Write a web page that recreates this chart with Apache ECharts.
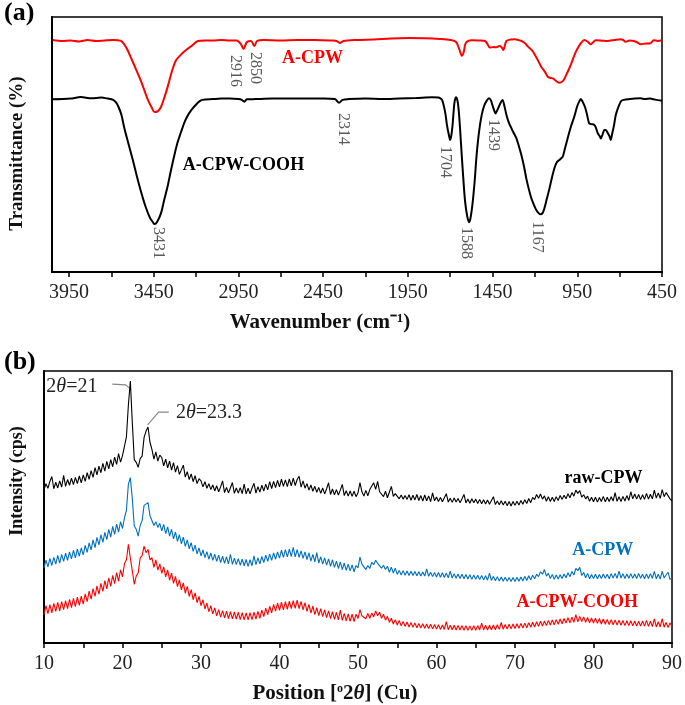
<!DOCTYPE html>
<html><head><meta charset="utf-8">
<script src="https://cdn.jsdelivr.net/npm/echarts@6/dist/echarts.min.js"></script>
<style>html,body{margin:0;padding:0;background:#fff}#c{width:685px;height:705px}</style>
</head><body><div id="c"></div>
<script>
// ---------- (a) FTIR ----------
const ftirTicks = [450,700,950,1200,1450,1700,1950,2200,2450,2700,2950,3200,3450,3700,3950];
const ftirTickLabels = [450,950,1450,1950,2450,2950,3450,3950];
const ftirWaveRed = [4045,3990,3940,3890,3840,3790,3740,3690,3643,3610,3586,3560,3535,3510,3484,3460,3445,3425,3407,3388,3368,3340,3317,3279,3250,3227,3189,3150,3100,3050,3000,2960,2935,2920,2900,2875,2856,2840,2800,2700,2600,2500,2400,2370,2350,2330,2250,2150,2050,1950,1848,1760,1700,1665,1645,1632,1620,1608,1573,1530,1495,1480,1466,1445,1427,1410,1397,1387,1368,1340,1319,1280,1260,1241,1220,1202,1180,1163,1140,1124,1105,1094,1075,1056,1043,1030,1015,997,978,958,940,929,909,890,870,855,841,800,772,730,694,680,665,640,617,595,577,545,518,499,475,450];
const ftirRed = [91.0,90.6,90.8,90.4,91.0,90.6,90.8,91.0,90.6,87.8,84.3,80.4,76.5,72.2,67.5,64.3,62.7,63.1,64.7,68.2,72.5,79.2,83.1,85.9,87.5,88.6,90.6,90.8,90.8,91.0,90.8,90.8,89.4,87.5,90.2,90.6,88.6,90.6,91.0,90.8,91.0,91.0,90.8,90.6,89.8,90.6,91.0,91.2,91.6,91.8,91.7,91.4,91.0,90.2,87.1,84.8,86.3,89.8,90.9,90.8,90.6,89.4,88.0,88.2,88.1,88.6,88.2,87.1,90.6,91.2,91.3,90.6,89.8,88.4,87.1,85.4,82.7,80.5,78.4,76.6,76.1,75.9,74.9,74.2,74.5,75.3,77.3,79.9,83.1,86.4,88.6,89.7,91.0,90.4,89.3,90.2,90.9,90.7,90.6,91.0,91.3,91.0,90.3,90.8,90.6,90.0,89.3,89.6,89.7,90.9,90.6,90.9];
const ftirWaveBlack = [4045,3990,3940,3880,3817,3760,3720,3689,3670,3658,3640,3625,3600,3573,3548,3522,3497,3471,3455,3445,3430,3407,3388,3368,3350,3330,3310,3291,3270,3253,3228,3202,3180,3163,3100,3050,3000,2950,2930,2915,2900,2850,2750,2650,2550,2450,2380,2356,2335,2300,2200,2100,2000,1900,1807,1770,1758,1748,1739,1728,1719,1709,1700,1693,1686,1680,1674,1665,1658,1651,1642,1632,1622,1612,1600,1589,1580,1569,1556,1544,1530,1514,1500,1485,1471,1460,1451,1439,1432,1422,1413,1400,1391,1380,1368,1355,1339,1325,1309,1295,1280,1265,1251,1236,1221,1206,1192,1178,1167,1155,1144,1130,1114,1100,1085,1070,1056,1046,1036,1022,1007,990,968,950,935,929,918,905,893,880,867,854,842,830,818,811,800,790,782,770,760,753,743,733,724,714,700,690,675,640,610,577,550,520,490,450];
const ftirBlack = [67.7,67.8,68.0,68.6,68.1,68.4,68.0,67.5,66.3,64.8,61.6,57.0,50.6,43.9,37.3,30.9,25.5,21.1,19.6,18.8,19.6,23.0,28.2,33.5,39.2,45.2,50.6,54.4,58.4,60.9,63.5,65.5,66.9,67.5,67.8,68.0,68.0,67.8,67.5,66.8,67.7,67.8,68.0,68.0,68.0,68.0,67.8,66.4,67.5,67.8,68.0,67.8,68.0,68.2,68.5,68.4,68.1,67.5,65.5,62.0,57.6,54.1,51.8,53.7,57.6,62.7,66.8,68.5,67.5,64.3,56.5,45.9,36.1,27.6,22.0,19.5,21.2,26.3,35.3,45.9,54.9,61.6,65.1,67.1,68.1,67.3,65.5,63.1,62.2,63.5,64.8,66.7,67.5,65.1,61.6,58.8,56.4,54.5,52.4,49.4,45.9,41.6,36.7,32.5,28.9,26.3,24.3,23.1,22.6,23.1,25.0,28.6,32.8,36.9,40.7,43.1,43.9,44.5,45.2,48.6,52.4,56.5,60.9,65.1,67.3,67.8,66.7,64.8,61.9,58.3,58.0,57.9,56.9,54.5,53.3,52.4,54.1,55.7,55.7,54.5,53.3,51.8,54.5,57.6,61.2,63.5,65.9,67.1,67.5,67.8,68.0,68.1,67.8,68.0,67.6,67.2];
const ftirPeakLabels = ['3431','2916','2850','2314','1704','1588','1439','1167'];
const ftirPeakLabelAt = [[3425,11.4],[2967,78.8],[2850,80.0],[2334,56.1],[1732,43.1],[1603,11.4],[1446,53.7],[1188,13.7]];
const ftirNames = ['A-CPW','A-CPW-COOH'];
const ftirNameAt = [[2692,83.9],[3278,42.0]];

// ---------- (b) XRD (2θ from 10 to 90 in steps of 0.25) ----------
const xrdFirst = 10, xrdStep = 0.25;
const xrdRaw = [
56.2,58.6,56.9,59.4,61.2,56.7,59.1,57.0,59.6,57.3,61.6,57.6,60.1,58.0,60.6,58.2,60.9,58.6,61.4,58.9,
61.8,59.4,62.6,60.2,63.4,60.9,64.5,61.8,65.0,62.6,66.0,63.2,66.8,64.0,67.4,64.8,68.3,65.7,69.6,66.5,
68.9,69.6,75.8,87.5,96.3,81.0,67.4,66.4,64.6,67.8,68.7,75.6,77.9,79.4,73.8,71.2,67.6,70.3,66.9,69.1,
68.2,65.1,67.6,64.4,66.9,63.6,66.3,62.8,65.2,62.0,62.6,65.4,61.0,63.0,60.1,62.2,59.3,61.5,58.6,60.4,
59.6,57.4,59.3,56.9,58.6,56.4,58.1,55.9,57.8,55.6,57.4,59.6,55.3,57.2,55.2,57.1,59.0,55.0,57.0,55.1,
57.1,54.9,58.4,54.8,56.9,54.8,57.0,58.7,55.1,57.5,55.5,58.0,55.9,58.4,56.3,59.3,56.8,59.4,57.1,59.8,
57.4,60.2,57.6,60.0,57.5,60.3,57.8,60.6,57.9,60.1,61.3,57.3,59.6,56.9,58.6,56.2,58.1,55.8,57.6,55.4,
57.2,55.0,57.0,54.8,56.7,58.9,54.6,56.6,54.5,56.4,54.4,56.2,58.3,54.2,56.0,54.0,55.9,53.9,55.8,53.8,
55.2,59.0,55.6,54.0,56.1,54.1,56.4,56.0,58.9,56.5,59.4,55.6,56.1,53.8,55.8,53.4,55.5,57.6,53.9,54.9,
54.6,53.0,54.4,52.9,54.2,52.8,54.5,52.5,54.3,52.6,54.6,52.4,54.2,52.2,54.4,52.3,54.1,52.0,55.2,52.3,
53.7,52.0,53.5,51.9,53.4,54.9,51.8,53.2,51.7,53.3,51.8,53.1,51.6,53.0,54.6,51.5,52.9,51.4,53.0,51.6,
52.9,51.3,52.8,51.2,52.7,51.1,52.6,51.0,52.4,53.8,50.9,52.2,50.8,52.3,50.7,52.1,50.5,52.0,50.4,52.0,
50.6,52.1,50.7,52.4,51.0,52.7,51.3,53.1,51.6,53.5,52.7,54.6,53.2,54.8,52.9,54.1,52.1,53.8,52.0,53.6,
52.0,53.8,52.4,54.2,52.8,54.3,53.0,54.9,53.4,55.3,54.0,56.2,55.0,56.0,53.6,54.5,53.0,54.0,52.1,53.6,
51.9,53.6,51.8,53.5,52.0,53.9,51.9,53.6,52.0,53.8,52.2,55.3,52.1,53.8,52.0,53.9,52.2,54.2,52.4,55.6,
53.0,54.8,52.9,54.6,52.7,54.5,52.8,55.0,52.9,54.7,53.0,56.2,53.3,55.2,53.2,56.4,53.8,55.3,56.0,53.0,
52.2];
const xrdACPW = [
27.6,30.5,28.0,31.1,28.5,31.5,29.0,32.2,29.4,32.6,30.0,33.0,30.4,33.5,30.9,34.1,31.3,34.5,31.9,35.0,
32.4,35.9,33.3,36.8,34.2,37.9,35.1,38.8,36.1,39.8,37.0,40.7,38.0,41.8,38.9,42.9,39.9,43.7,40.8,44.6,
42.1,46.0,48.8,58.4,60.8,53.0,43.0,41.8,39.3,43.2,45.0,50.6,51.1,51.6,46.8,46.3,43.2,44.6,42.5,44.0,
41.2,43.6,40.2,42.7,39.3,41.8,38.3,40.8,37.4,39.8,36.5,38.9,35.5,37.9,34.6,36.9,33.7,36.0,32.8,35.0,
32.0,34.2,31.4,33.6,30.8,33.1,30.4,32.7,30.0,32.3,29.6,31.9,29.3,31.7,29.1,32.6,28.9,31.2,28.8,31.0,
28.6,30.8,28.4,30.7,28.2,30.6,28.4,32.0,28.8,31.3,29.1,31.8,29.6,32.3,30.0,32.7,30.4,33.1,30.8,33.5,
31.2,34.1,31.5,34.3,31.7,34.5,31.8,35.2,31.7,34.3,31.5,33.9,31.1,33.5,30.7,33.1,30.1,32.6,29.8,33.2,
29.4,31.7,29.0,31.3,28.6,30.9,28.2,30.6,27.8,30.1,27.4,29.8,27.0,29.4,26.7,29.0,26.5,28.7,26.2,28.5,
27.6,31.6,29.0,28.4,27.0,28.5,27.4,29.6,28.8,30.4,29.3,30.0,27.5,28.6,27.0,28.2,26.0,27.9,25.7,27.5,
25.2,26.7,25.0,26.6,24.9,26.5,24.8,26.4,24.8,26.3,24.7,26.2,24.6,26.1,24.6,27.2,24.5,26.0,24.4,25.9,
24.3,25.9,24.2,25.8,24.1,25.7,24.0,26.4,23.9,25.5,23.8,25.4,23.7,25.3,23.6,25.2,23.5,25.1,23.4,25.0,
23.4,24.9,23.3,24.8,23.2,24.7,23.1,25.7,23.0,24.5,22.9,24.4,22.8,24.3,22.7,24.2,22.7,24.1,22.6,24.1,
22.6,24.2,22.7,24.3,22.8,24.5,23.0,24.7,23.2,24.9,23.6,25.3,24.4,26.2,25.3,27.0,24.6,25.6,23.7,25.2,
23.4,25.0,23.5,25.1,23.7,25.4,24.0,25.8,24.4,26.3,25.0,27.4,26.6,27.8,24.8,25.9,24.0,25.6,23.6,25.2,
23.7,25.3,23.6,25.2,23.7,25.4,23.8,25.3,23.6,25.5,23.9,25.6,23.8,26.4,23.9,25.5,23.7,25.4,23.8,25.5,
23.8,25.4,23.7,25.6,23.8,25.3,23.6,25.4,23.7,25.5,23.8,26.3,23.6,25.3,23.5,26.4,23.9,25.1,26.0,23.4,
24.0];
const xrdCOOH = [
10.4,13.7,10.8,14.1,11.1,14.6,11.6,14.9,11.8,15.2,12.3,15.6,12.6,16.0,13.0,16.4,13.4,16.9,13.8,17.2,
14.3,18.1,15.2,19.1,16.1,20.0,17.1,21.0,18.0,21.9,19.0,22.9,19.9,23.9,20.8,24.9,21.8,25.9,22.7,26.9,
24.3,29.2,30.6,36.3,31.2,26.5,21.6,24.6,25.8,31.3,32.1,35.6,33.2,34.4,30.6,31.4,27.8,30.6,26.8,29.1,
25.6,28.0,24.3,26.9,23.1,25.7,21.9,24.5,20.7,23.2,19.5,22.1,18.3,20.8,17.1,19.6,15.9,18.4,14.8,17.1,
13.7,15.9,12.5,14.7,11.5,13.7,10.7,12.9,10.0,12.3,9.5,11.9,9.2,11.7,9.0,11.5,8.9,11.4,8.8,11.3,
8.6,11.2,8.5,11.1,8.5,11.2,8.6,11.3,8.8,11.6,9.1,12.1,9.7,12.8,10.4,13.5,11.1,14.2,11.7,14.7,
12.0,15.0,12.2,15.2,12.4,15.4,12.6,15.6,12.7,15.8,12.6,15.3,12.2,14.8,11.6,14.2,11.0,13.6,10.4,13.0,
10.1,12.6,9.7,12.2,9.3,11.8,9.0,11.5,8.7,11.3,8.5,12.1,8.3,10.9,8.1,10.7,8.0,10.6,7.9,10.6,
9.0,12.3,10.0,10.3,8.9,10.9,9.1,11.0,9.6,11.8,10.0,11.3,9.1,10.6,8.4,9.8,7.6,9.1,7.0,8.6,
6.6,8.3,6.3,7.9,6.1,7.7,5.9,7.5,5.8,7.4,5.6,7.2,5.5,7.1,5.4,7.0,5.3,6.9,5.2,6.8,
5.1,6.7,5.0,6.6,5.0,7.9,4.9,6.5,4.9,6.5,4.8,6.4,4.8,6.4,4.7,6.4,4.7,6.3,4.7,6.4,
4.7,6.4,4.8,7.3,4.8,6.5,4.8,6.5,4.9,6.6,4.9,6.7,5.0,7.6,5.0,6.8,5.1,6.9,5.2,7.0,
5.3,7.1,5.4,7.2,5.5,7.3,5.6,7.5,5.8,7.6,5.9,7.8,6.1,8.0,6.2,8.1,6.4,8.3,6.6,8.5,
6.7,8.6,6.9,8.8,7.1,9.0,7.3,9.3,7.4,9.5,7.6,10.4,7.8,9.8,7.9,9.6,7.6,9.4,7.4,9.2,
7.3,9.1,7.2,9.0,7.0,8.8,6.9,8.7,6.8,8.6,6.7,8.5,6.6,8.4,6.5,8.3,6.4,8.2,6.4,8.2,
6.3,8.1,6.2,8.0,6.2,8.1,6.2,8.3,6.1,8.0,6.0,8.9,5.9,7.8,5.9,9.0,5.8,7.6,5.7,7.4,
6.0];
const xrdNames = ['raw-CPW','A-CPW','A-CPW-COOH'];
const xrdNameAt = [[76.3,60.7],[77.3,34.2],[70.2,15.1]];
const xrdPeakText = ['2{i|θ}=21','2{i|θ}=23.3'];
const xrdPeakTextAt = [[10.3,94.2],[26.8,84.5]];
const xrdLeaders = [[[18.7,95.2],[20.4,94.9],[20.9,93.7]],[[25.9,84.9],[24.6,84.9],[23.2,80.2]]];

const RED = '#ff0000', BLUE = '#0070c0', BLACK = '#000000', GREY = '#5a5a5a';
const SERIF = '"Liberation Serif","Times New Roman",serif';

function pairs(xs, ys){ return ys.map((v,i)=>[xs[i], v]); }
const xrdAngles = xrdRaw.map((_,i)=> +(xrdFirst + i*xrdStep).toFixed(2));

const chart = echarts.init(document.getElementById('c'), null, {renderer:'canvas'});
const axisLineStyle = {color:'#000', width:2};
const option = {
  animation:false,
  backgroundColor:'#fff',
  grid:[
    {left:48, top:17, width:614, height:255, show:true, borderColor:'#000', borderWidth:1.5},
    {left:41, top:371, width:632, height:273, show:true, borderColor:'#000', borderWidth:1.5}
  ],
  xAxis:[
    {gridIndex:0, type:'value', min:450, max:4050, inverse:true,
     axisLine:{onZero:false, lineStyle:axisLineStyle},
     axisTick:{customValues:ftirTicks, length:5, lineStyle:{color:'#000', width:1.5}},
     axisLabel:{customValues:ftirTickLabels, formatter:v=>String(v), fontFamily:SERIF, fontSize:20, color:'#222', margin:11},
     splitLine:{show:false},
     name:'Wavenumber (cm\u207B\u00B9)', nameLocation:'middle', nameGap:40,
     nameTextStyle:{fontFamily:SERIF, fontWeight:'bold', fontSize:21, color:'#111', padding:[0,74,0,0]}},
    {gridIndex:1, type:'value', min:10, max:90, interval:10,
     axisLine:{onZero:false, lineStyle:axisLineStyle},
     axisTick:{length:5, lineStyle:{color:'#000', width:1.5}},
     minorTick:{show:true, splitNumber:2, length:5, lineStyle:{color:'#000', width:1.5}},
     axisLabel:{fontFamily:SERIF, fontSize:20, color:'#222', margin:11},
     splitLine:{show:false},
     name:'Position [{s|o}2{t|θ}] (Cu)', nameLocation:'middle', nameGap:40,
     nameTextStyle:{fontFamily:SERIF, fontWeight:'bold', fontSize:21, color:'#111', padding:[0,46,0,0],
       rich:{s:{fontFamily:SERIF, fontWeight:'bold', fontSize:12, verticalAlign:'top', padding:[0,0,6,0]},
             t:{fontFamily:SERIF, fontWeight:'bold', fontStyle:'italic', fontSize:21}}}}
  ],
  yAxis:[
    {gridIndex:0, type:'value', min:0, max:100,
     axisLine:{show:true, lineStyle:axisLineStyle}, axisTick:{show:false}, axisLabel:{show:false}, splitLine:{show:false},
     name:'Transmittance (%)', nameLocation:'middle', nameGap:25,
     nameTextStyle:{fontFamily:SERIF, fontWeight:'bold', fontSize:19, color:'#111', padding:[0,18,0,0]}},
    {gridIndex:1, type:'value', min:0, max:100,
     axisLine:{show:true, lineStyle:axisLineStyle}, axisTick:{show:false}, axisLabel:{show:false}, splitLine:{show:false},
     name:'Intensity (cps)', nameLocation:'middle', nameGap:18,
     nameTextStyle:{fontFamily:SERIF, fontWeight:'bold', fontSize:18, color:'#111', padding:[0,0,0,52]}}
  ],
  series:[
    {type:'line', xAxisIndex:0, yAxisIndex:0, data:pairs(ftirWaveRed, ftirRed), symbol:'none', smooth:0.3,
     lineStyle:{color:RED, width:2}, itemStyle:{color:RED}, z:3},
    {type:'line', xAxisIndex:0, yAxisIndex:0, data:pairs(ftirWaveBlack, ftirBlack), symbol:'none', smooth:0.3,
     lineStyle:{color:BLACK, width:2}, itemStyle:{color:BLACK}, z:3},
    {type:'line', xAxisIndex:1, yAxisIndex:1, data:pairs(xrdAngles, xrdRaw), symbol:'none',
     lineStyle:{color:BLACK, width:1.1}, itemStyle:{color:BLACK}},
    {type:'line', xAxisIndex:1, yAxisIndex:1, data:pairs(xrdAngles, xrdACPW), symbol:'none',
     lineStyle:{color:BLUE, width:1.1}, itemStyle:{color:BLUE}},
    {type:'line', xAxisIndex:1, yAxisIndex:1, data:pairs(xrdAngles, xrdCOOH), symbol:'none',
     lineStyle:{color:RED, width:1.1}, itemStyle:{color:RED}}
  ]
};
chart.setOption(option);

const P0 = v => chart.convertToPixel({gridIndex:0}, v);
const P1 = v => chart.convertToPixel({gridIndex:1}, v);
const g = [];
g.push({type:'text', left:4, top:0, style:{text:'(a)', fill:'#000', font:'bold 26px '+SERIF}});
g.push({type:'text', left:4, top:349, style:{text:'(b)', fill:'#000', font:'bold 26px '+SERIF}});
ftirPeakLabels.forEach((t,i)=>{
  const p = P0(ftirPeakLabelAt[i]);
  g.push({type:'text', x:p[0], y:p[1], rotation:-Math.PI/2,
    style:{text:t, fill:GREY, font:'16px '+SERIF, align:'center', verticalAlign:'middle', textAlign:'center', textVerticalAlign:'middle'}});
});
[RED, BLACK].forEach((c,i)=>{
  const p = P0(ftirNameAt[i]);
  g.push({type:'text', x:p[0], y:p[1], style:{text:ftirNames[i], fill:c, font:'bold 18px '+SERIF, align:'left', verticalAlign:'middle', textAlign:'left', textVerticalAlign:'middle'}});
});
[BLACK, BLUE, RED].forEach((c,i)=>{
  const p = P1(xrdNameAt[i]);
  g.push({type:'text', x:p[0], y:p[1], style:{text:xrdNames[i], fill:c, font:'bold 18px '+SERIF, align:'left', verticalAlign:'middle', textAlign:'left', textVerticalAlign:'middle'}});
});
xrdPeakText.forEach((t,i)=>{
  const p = P1(xrdPeakTextAt[i]);
  g.push({type:'text', x:p[0], y:p[1], style:{text:t, fill:'#222', font:'20px '+SERIF, align:'left', verticalAlign:'middle', textAlign:'left', textVerticalAlign:'middle',
    rich:{i:{fontStyle:'italic', fontFamily:SERIF, fontSize:20, fill:'#222'}}}});
});
xrdLeaders.forEach(pts=>{
  g.push({type:'polyline', shape:{points:pts.map(P1)}, style:{stroke:'#888', lineWidth:1.2, fill:null}});
});
chart.setOption({graphic:g});
</script>
</body></html>
